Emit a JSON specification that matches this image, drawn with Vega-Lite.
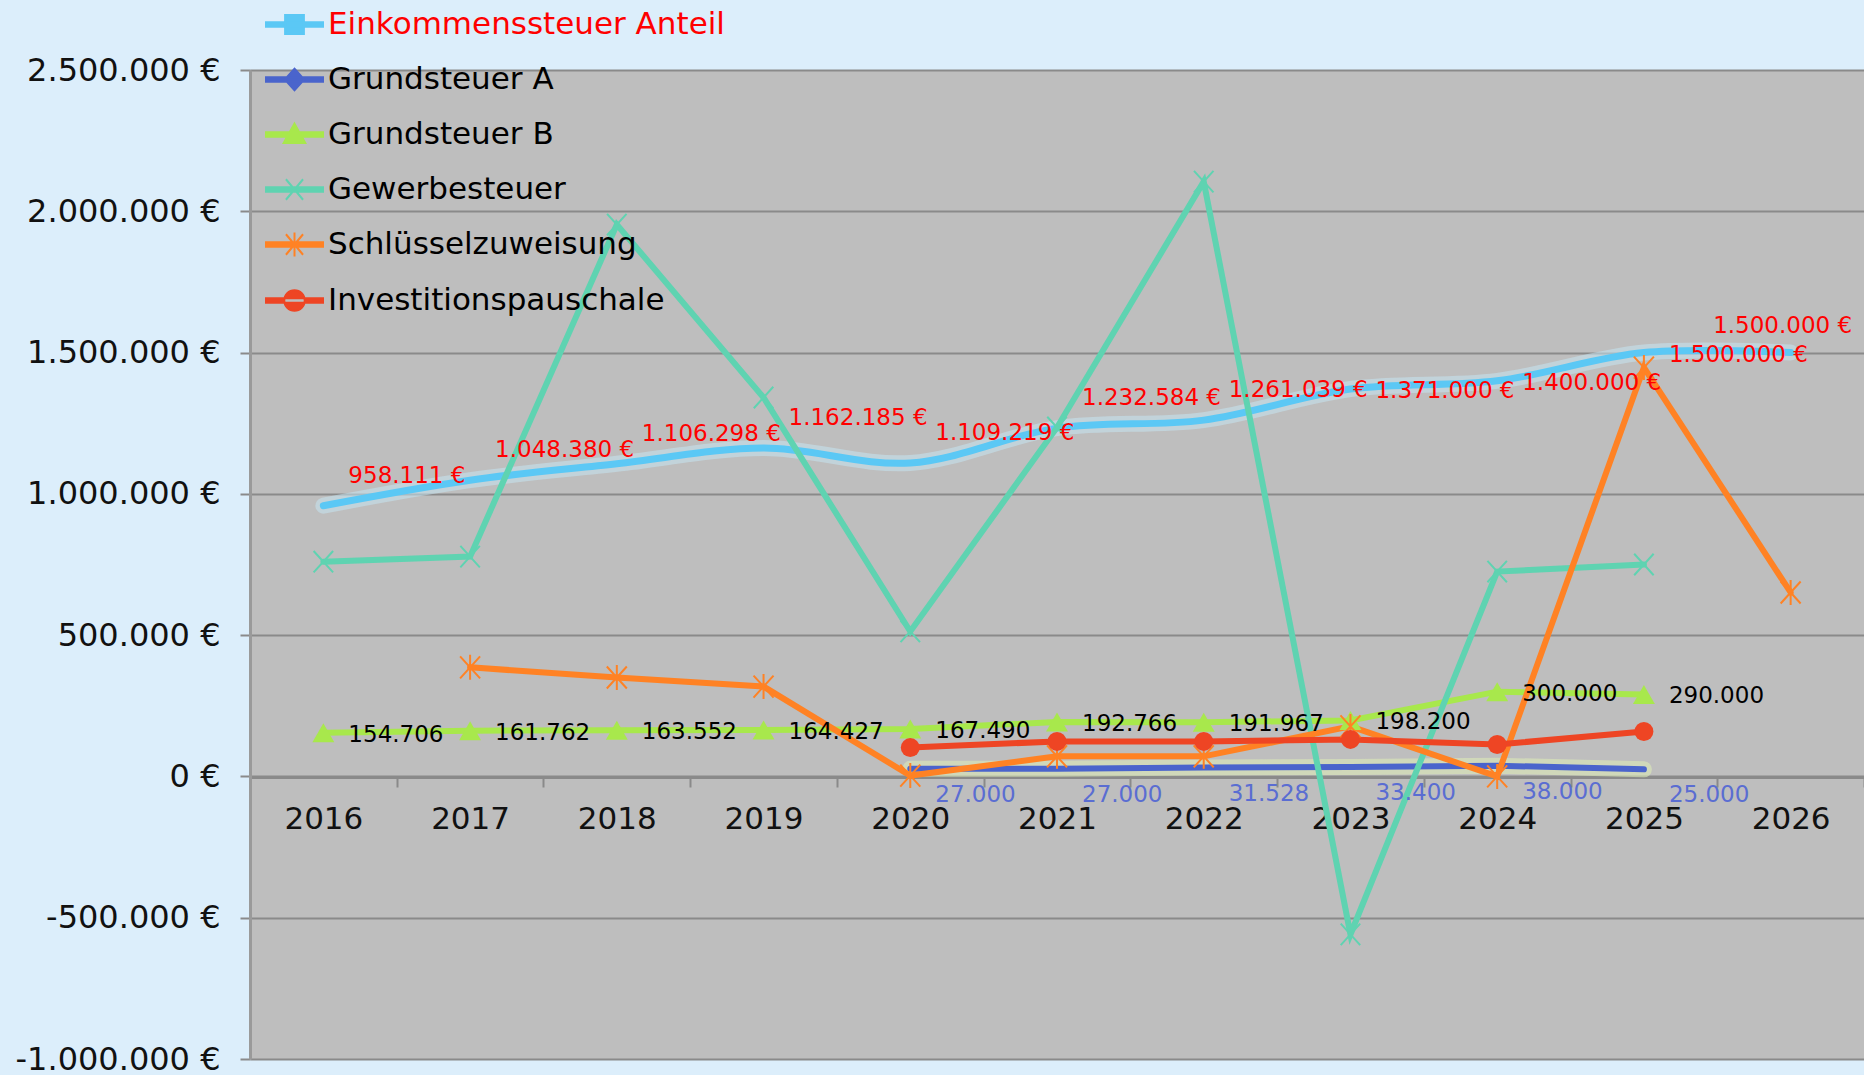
{
  "$schema": "https://vega.github.io/schema/vega-lite/v6.json",
  "width": 1614,
  "height": 989,
  "autosize": {"type": "none"},
  "padding": {"left": 250, "top": 70, "right": 0, "bottom": 16},
  "background": "#DCEEFB",
  "config": {
    "locale": {"number": {"decimal": ",", "thousands": ".", "grouping": [3], "currency": ["", " €"], "minus": "-"}},
    "font": "DejaVu Sans",
    "view": {"fill": "#BEBEBE", "stroke": null}
  },
  "data": {
    "values": [
      {"series": "Einkommenssteuer Anteil", "year": 2016, "value": 958111},
      {"series": "Einkommenssteuer Anteil", "year": 2017, "value": 1048380},
      {"series": "Einkommenssteuer Anteil", "year": 2018, "value": 1106298},
      {"series": "Einkommenssteuer Anteil", "year": 2019, "value": 1162185},
      {"series": "Einkommenssteuer Anteil", "year": 2020, "value": 1109219},
      {"series": "Einkommenssteuer Anteil", "year": 2021, "value": 1232584},
      {"series": "Einkommenssteuer Anteil", "year": 2022, "value": 1261039},
      {"series": "Einkommenssteuer Anteil", "year": 2023, "value": 1371000},
      {"series": "Einkommenssteuer Anteil", "year": 2024, "value": 1400000},
      {"series": "Einkommenssteuer Anteil", "year": 2025, "value": 1500000},
      {"series": "Einkommenssteuer Anteil", "year": 2026, "value": 1500000},
      {"series": "Grundsteuer A", "year": 2020, "value": 27000},
      {"series": "Grundsteuer A", "year": 2021, "value": 27000},
      {"series": "Grundsteuer A", "year": 2022, "value": 31528},
      {"series": "Grundsteuer A", "year": 2023, "value": 33400},
      {"series": "Grundsteuer A", "year": 2024, "value": 38000},
      {"series": "Grundsteuer A", "year": 2025, "value": 25000},
      {"series": "Grundsteuer B", "year": 2016, "value": 154706},
      {"series": "Grundsteuer B", "year": 2017, "value": 161762},
      {"series": "Grundsteuer B", "year": 2018, "value": 163552},
      {"series": "Grundsteuer B", "year": 2019, "value": 164427},
      {"series": "Grundsteuer B", "year": 2020, "value": 167490},
      {"series": "Grundsteuer B", "year": 2021, "value": 192766},
      {"series": "Grundsteuer B", "year": 2022, "value": 191967},
      {"series": "Grundsteuer B", "year": 2023, "value": 198200},
      {"series": "Grundsteuer B", "year": 2024, "value": 300000},
      {"series": "Grundsteuer B", "year": 2025, "value": 290000},
      {"series": "Gewerbesteuer", "year": 2016, "value": 760000},
      {"series": "Gewerbesteuer", "year": 2017, "value": 778000},
      {"series": "Gewerbesteuer", "year": 2018, "value": 1953000},
      {"series": "Gewerbesteuer", "year": 2019, "value": 1341000},
      {"series": "Gewerbesteuer", "year": 2020, "value": 513000},
      {"series": "Gewerbesteuer", "year": 2021, "value": 1235000},
      {"series": "Gewerbesteuer", "year": 2022, "value": 2105000},
      {"series": "Gewerbesteuer", "year": 2023, "value": -559000},
      {"series": "Gewerbesteuer", "year": 2024, "value": 725000},
      {"series": "Gewerbesteuer", "year": 2025, "value": 750000},
      {"series": "Schlüsselzuweisung", "year": 2017, "value": 386000},
      {"series": "Schlüsselzuweisung", "year": 2018, "value": 350000},
      {"series": "Schlüsselzuweisung", "year": 2019, "value": 318000},
      {"series": "Schlüsselzuweisung", "year": 2020, "value": 3000},
      {"series": "Schlüsselzuweisung", "year": 2021, "value": 71000},
      {"series": "Schlüsselzuweisung", "year": 2022, "value": 71000},
      {"series": "Schlüsselzuweisung", "year": 2023, "value": 177000},
      {"series": "Schlüsselzuweisung", "year": 2024, "value": 0},
      {"series": "Schlüsselzuweisung", "year": 2025, "value": 1447000},
      {"series": "Schlüsselzuweisung", "year": 2026, "value": 651000},
      {"series": "Investitionspauschale", "year": 2020, "value": 102000},
      {"series": "Investitionspauschale", "year": 2021, "value": 124000},
      {"series": "Investitionspauschale", "year": 2022, "value": 124000},
      {"series": "Investitionspauschale", "year": 2023, "value": 131000},
      {"series": "Investitionspauschale", "year": 2024, "value": 113000},
      {"series": "Investitionspauschale", "year": 2025, "value": 159000}
    ]
  },
  "encoding": {
    "x": {
      "field": "year", "type": "ordinal", "bandPosition": 0.5,
      "scale": {"type": "band", "paddingInner": 0, "paddingOuter": 0},
      "axis": {
        "title": null, "labelAngle": 0, "offset": -282, "grid": false,
        "domainColor": "#8A8A8A", "domainWidth": 3,
        "tickBand": "extent", "tickSize": 10, "tickColor": "#8A8A8A", "tickWidth": 2,
        "labelFontSize": 31, "labelColor": "#111111", "labelPadding": 17
      }
    },
    "y": {
      "field": "value", "type": "quantitative",
      "scale": {"domain": [-1000000, 2500000], "nice": false, "zero": false},
      "axis": {
        "title": null,
        "values": [-1000000, -500000, 0, 500000, 1000000, 1500000, 2000000, 2500000],
        "format": "$,.0f", "labelLimit": 0,
        "labelFontSize": 32, "labelColor": "#111111", "labelPadding": 20,
        "tickSize": 10, "tickColor": "#8A8A8A", "tickWidth": 2,
        "domainColor": "#9A9A9A", "domainWidth": 3,
        "grid": true, "gridColor": "#8A8A8A", "gridWidth": 2
      }
    }
  },
  "layer": [
    {
      "transform": [{"filter": "datum.series === 'Einkommenssteuer Anteil'"}],
      "mark": {"type": "line", "interpolate": "catmull-rom", "strokeWidth": 16, "color": "#C4E4F0", "opacity": 0.55, "strokeCap": "round"}
    },
    {
      "transform": [{"filter": "datum.series === 'Einkommenssteuer Anteil'"}],
      "mark": {"type": "line", "interpolate": "catmull-rom", "strokeWidth": 7, "strokeCap": "round"},
      "encoding": {
        "color": {
          "field": "series", "type": "nominal",
          "scale": {
            "domain": ["Einkommenssteuer Anteil", "Grundsteuer A", "Grundsteuer B", "Gewerbesteuer", "Schlüsselzuweisung", "Investitionspauschale"],
            "range": ["#5BC8F5", "#4A64CC", "#A8E84C", "#5FD3B1", "#FF8224", "#EE4524"]
          },
          "legend": {
            "title": null, "orient": "none", "legendX": 15, "legendY": -75,
            "padding": 0, "rowPadding": 10, "labelOffset": 4, "labelLimit": 0,
            "labelFontSize": 31, "labelFont": "DejaVu Sans",
            "symbolSize": 3249, "symbolStrokeWidth": 2,
            "encode": {
              "symbols": {
                "update": {
                  "shape": {"signal": "datum.value === 'Einkommenssteuer Anteil' ? 'M-1,-0.08L1,-0.08L1,0.08L-1,0.08Z M-0.33,-0.33L0.33,-0.33L0.33,0.33L-0.33,0.33Z' : datum.value === 'Grundsteuer A' ? 'M-1,-0.08L1,-0.08L1,0.08L-1,0.08Z M0,-0.38L0.34,0L0,0.38L-0.34,0Z' : datum.value === 'Grundsteuer B' ? 'M-1,-0.08L1,-0.08L1,0.08L-1,0.08Z M0,-0.38L0.38,0.3L-0.38,0.3Z' : datum.value === 'Gewerbesteuer' ? 'M-1,-0.08L1,-0.08L1,0.08L-1,0.08Z M-0.3,-0.36L0.3,0.36 M-0.3,0.36L0.3,-0.36' : datum.value === 'Schlüsselzuweisung' ? 'M-1,-0.08L1,-0.08L1,0.08L-1,0.08Z M-0.3,-0.36L0.3,0.36 M-0.3,0.36L0.3,-0.36 M0,-0.42L0,0.42' : 'M-1,-0.08L1,-0.08L1,0.08L-1,0.08Z M-0.36,0A0.36,0.36 0 1,0 0.36,0A0.36,0.36 0 1,0 -0.36,0Z'"},
                  "fill": {"scale": "color", "field": "value"},
                  "stroke": {"scale": "color", "field": "value"},
                  "strokeWidth": {"value": 2},
                  "opacity": {"value": 1}
                }
              },
              "labels": {
                "update": {
                  "fill": {"signal": "datum.value === 'Einkommenssteuer Anteil' ? '#FF0000' : '#000000'"}
                }
              }
            }
          }
        }
      }
    },
    {
      "transform": [{"filter": "datum.series === 'Grundsteuer A'"}],
      "mark": {"type": "line", "strokeWidth": 16, "color": "#DCEAB8", "opacity": 0.6, "strokeCap": "round"}
    },
    {
      "transform": [{"filter": "datum.series !== 'Einkommenssteuer Anteil'"}],
      "mark": {"type": "line", "strokeWidth": 6, "strokeCap": "round"},
      "encoding": {
        "color": {"field": "series", "type": "nominal"}
      }
    },
    {
      "transform": [{"filter": "datum.series === 'Grundsteuer B'"}],
      "mark": {"type": "point", "shape": "triangle-up", "filled": true, "size": 480, "color": "#A8E84C", "opacity": 1}
    },
    {
      "transform": [{"filter": "datum.series === 'Gewerbesteuer'"}],
      "mark": {"type": "point", "shape": "M-1,-1.1L1,1.1M-1,1.1L1,-1.1", "filled": false, "size": 380, "strokeWidth": 2, "color": "#5FD3B1", "opacity": 1}
    },
    {
      "transform": [{"filter": "datum.series === 'Schlüsselzuweisung'"}],
      "mark": {"type": "point", "shape": "M-1,-1.1L1,1.1M-1,1.1L1,-1.1M0,-1.25L0,1.25", "filled": false, "size": 400, "strokeWidth": 2, "color": "#FF8224", "opacity": 1}
    },
    {
      "transform": [{"filter": "datum.series === 'Investitionspauschale'"}],
      "mark": {"type": "point", "shape": "circle", "filled": true, "size": 360, "color": "#EE4524", "opacity": 1}
    },
    {
      "transform": [{"filter": "datum.series === 'Einkommenssteuer Anteil' && datum.year <= 2022"}],
      "mark": {"type": "text", "align": "left", "baseline": "middle", "dx": 25, "dy": -30, "fontSize": 23, "color": "#FF0000"},
      "encoding": {"text": {"field": "value", "type": "quantitative", "format": "$,.0f"}}
    },
    {
      "transform": [{"filter": "datum.series === 'Einkommenssteuer Anteil' && datum.year >= 2023 && datum.year <= 2025"}],
      "mark": {"type": "text", "align": "left", "baseline": "middle", "dx": 25, "dy": 2, "fontSize": 23, "color": "#FF0000"},
      "encoding": {"text": {"field": "value", "type": "quantitative", "format": "$,.0f"}}
    },
    {
      "transform": [{"filter": "datum.series === 'Einkommenssteuer Anteil' && datum.year === 2026"}],
      "mark": {"type": "text", "align": "center", "baseline": "middle", "dx": -8, "dy": -27, "fontSize": 23, "color": "#FF0000"},
      "encoding": {"text": {"field": "value", "type": "quantitative", "format": "$,.0f"}}
    },
    {
      "transform": [{"filter": "datum.series === 'Grundsteuer A'"}],
      "mark": {"type": "text", "align": "left", "baseline": "middle", "dx": 25, "dy": 26, "fontSize": 23, "color": "#5A6DD2"},
      "encoding": {"text": {"field": "value", "type": "quantitative", "format": ",.0f"}}
    },
    {
      "transform": [{"filter": "datum.series === 'Grundsteuer B'"}],
      "mark": {"type": "text", "align": "left", "baseline": "middle", "dx": 25, "dy": 2, "fontSize": 23, "color": "#000000"},
      "encoding": {"text": {"field": "value", "type": "quantitative", "format": ",.0f"}}
    }
  ]
}
